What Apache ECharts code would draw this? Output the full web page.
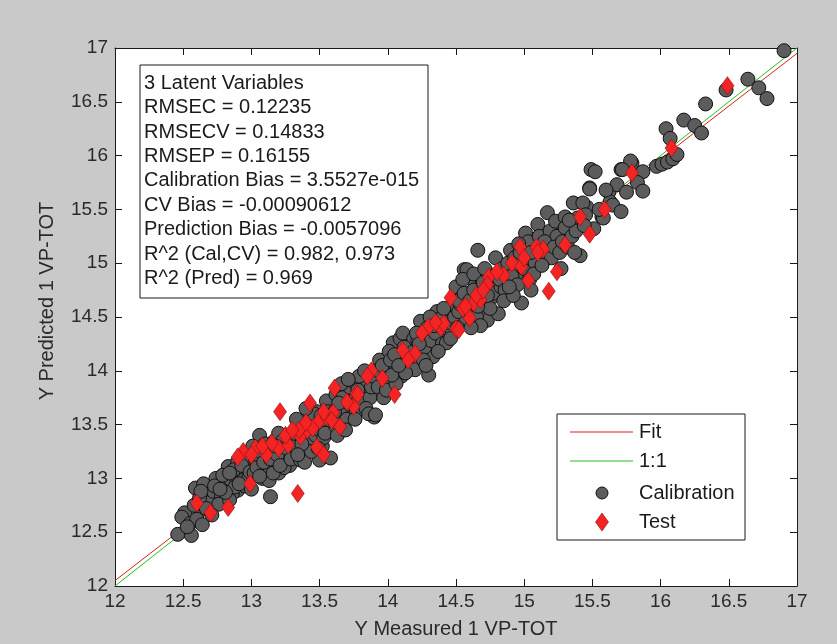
<!DOCTYPE html>
<html><head><meta charset="utf-8">
<script src="https://cdn.jsdelivr.net/npm/echarts@6/dist/echarts.min.js"></script>
<style>html,body{margin:0;padding:0;background:#c9c9c9}#c{width:837px;height:644px}</style>
</head><body><div id="c"></div><script>
// ---- data ----
const calibration = [
[12.46,12.48],[12.56,12.47],[12.51,12.68],[12.49,12.64],[12.59,12.91],[12.65,12.95],[12.55,12.58],[12.62,12.70],[12.60,12.62],[12.66,12.80],[12.58,12.75],[12.68,12.85],[12.64,12.57],[12.70,12.78],[12.53,12.55],
[12.75,12.97],[12.82,12.95],[12.83,13.11],[12.90,12.89],[12.72,12.88],[12.78,12.83],[12.80,12.92],[12.85,12.99],[12.88,13.02],[12.92,13.05],[12.76,12.76],[12.86,12.86],[12.95,12.93],[12.97,13.10],[12.74,13.00],[12.90,13.16],[12.84,12.80],[12.94,12.98],[12.98,13.00],[12.88,12.92],[12.81,12.87],[12.96,13.14],
[12.62,12.82],[12.67,12.72],[12.73,12.93],[12.77,12.90],[12.79,13.03],[12.87,13.08],[12.91,12.95],[12.93,13.12],[12.99,13.06],[12.71,12.66],[12.63,12.88],[12.84,13.05],
[13.06,13.40],[13.14,12.83],[13.02,13.05],[13.05,13.12],[13.08,13.00],[13.10,13.20],[13.12,13.10],[13.15,13.25],[13.00,12.90],[13.18,13.15],[13.20,13.05],[13.22,13.30],[13.25,13.20],[13.03,13.18],[13.27,13.38],[13.28,13.12],[13.10,13.32],[13.17,13.35],[13.24,13.10],[13.13,12.98],[13.07,13.25],[13.20,13.42],[13.29,13.25],[13.01,13.30],[13.16,13.05],
[13.04,13.10],[13.09,13.15],[13.11,13.28],[13.14,13.18],[13.19,13.22],[13.21,13.12],[13.23,13.35],[13.26,13.28],[13.31,13.35],[13.34,13.48],[13.37,13.45],[13.41,13.42],[13.43,13.58],[13.46,13.35],[13.49,13.52],[13.06,13.02],[13.18,13.30],[13.29,13.18],
[13.36,13.17],[13.39,13.15],[13.50,13.17],[13.58,13.19],[13.32,13.30],[13.35,13.40],[13.38,13.50],[13.40,13.28],[13.42,13.35],[13.45,13.55],[13.47,13.40],[13.48,13.62],[13.50,13.45],[13.52,13.30],[13.55,13.50],[13.57,13.65],[13.33,13.55],[13.44,13.25],[13.53,13.38],[13.58,13.45],[13.31,13.42],[13.46,13.60],[13.40,13.65],[13.55,13.72],[13.37,13.32],[13.49,13.28],[13.59,13.57],[13.34,13.22],
[13.51,13.58],[13.54,13.42],[13.56,13.62],[13.60,13.55],[13.62,13.78],[13.66,13.68],[13.68,13.82],[13.70,13.65],[13.73,13.75],[13.76,13.78],[13.80,13.70],[13.81,13.88],[13.85,13.80],[13.90,13.90],[13.92,14.00],[13.95,13.90],[13.98,14.08],
[13.90,13.57],[13.62,13.48],[13.65,13.60],[13.67,13.75],[13.70,13.55],[13.72,13.85],[13.74,13.68],[13.77,13.62],[13.80,13.80],[13.82,13.72],[13.85,13.90],[13.87,13.75],[13.63,13.40],[13.66,13.88],[13.69,13.45],[13.75,13.90],[13.79,13.95],[13.84,13.65],[13.88,13.85],[13.61,13.62],[13.71,13.92],[13.76,13.55],[13.83,14.00],[13.86,13.60],[13.64,13.70],[13.78,13.82],[13.89,13.95],
[13.91,13.59],[13.93,13.85],[13.95,13.98],[13.97,13.75],[14.00,14.05],[14.02,13.90],[14.04,14.26],[14.05,14.00],[14.07,14.12],[14.09,14.30],[14.10,13.95],[14.12,14.08],[14.14,14.20],[14.16,14.02],[14.18,14.25],[14.20,14.01],[13.94,14.10],[13.99,13.82],[14.01,14.18],[14.06,13.88],[14.11,14.35],[14.15,14.12],[14.19,14.30],[13.96,14.05],[14.03,13.96],[14.13,13.98],
[14.02,14.10],[14.05,14.15],[14.08,14.05],[14.12,14.22],[14.16,14.15],[14.19,14.18],[14.22,14.28],[14.26,14.38],[14.29,14.32],[14.32,14.45],[14.35,14.25],[14.39,14.38],[14.42,14.50],[14.46,14.48],[14.49,14.58],
[14.24,14.46],[14.30,13.96],[14.33,14.13],[14.36,14.55],[14.22,14.15],[14.25,14.30],[14.27,14.22],[14.29,14.40],[14.32,14.28],[14.35,14.35],[14.38,14.48],[14.40,14.25],[14.42,14.40],[14.43,14.26],[14.45,14.55],[14.47,14.38],[14.48,14.62],[14.50,14.78],[14.21,14.35],[14.26,14.10],[14.31,14.50],[14.37,14.18],[14.41,14.58],[14.44,14.45],[14.23,14.25],[14.34,14.42],[14.46,14.30],[14.49,14.50],[14.28,14.05],
[14.56,14.94],[14.58,14.94],[14.66,15.12],[14.73,14.47],[14.81,14.53],[14.79,15.05],[14.52,14.55],[14.54,14.68],[14.57,14.45],[14.60,14.72],[14.62,14.58],[14.64,14.80],[14.65,14.50],[14.67,14.68],[14.69,14.85],[14.70,14.60],[14.72,14.75],[14.74,14.90],[14.76,14.68],[14.78,14.80],[14.51,14.40],[14.55,14.85],[14.59,14.62],[14.63,14.90],[14.68,14.42],[14.71,14.95],[14.75,14.58],[14.77,14.72],[14.53,14.62],[14.61,14.40],
[14.52,14.65],[14.56,14.72],[14.60,14.65],[14.63,14.75],[14.66,14.60],[14.70,14.82],[14.73,14.70],[14.78,14.88],[14.83,14.78],[14.87,14.92],[14.92,14.98],[14.96,14.92],
[14.90,15.12],[14.98,14.63],[15.01,15.28],[15.10,15.36],[14.82,14.85],[14.84,14.95],[14.86,14.75],[14.88,15.00],[14.91,14.88],[14.93,15.05],[14.95,14.80],[14.97,15.10],[15.00,14.95],[15.02,15.05],[15.04,14.85],[15.06,15.15],[15.08,15.00],[14.85,14.65],[14.92,14.70],[15.03,15.20],[15.07,14.90],[14.89,14.78],[14.96,15.18],[15.05,14.75],
[15.05,15.10],[15.11,15.25],[15.16,15.12],[15.21,15.30],[15.25,15.18],[15.31,15.28],[15.39,15.42],[15.46,15.52],
[15.17,15.47],[15.19,15.30],[15.23,15.39],[15.24,15.25],[15.30,15.43],[15.30,15.33],[15.36,15.56],[15.41,15.07],[15.12,15.10],[15.15,15.20],[15.20,15.05],[15.22,15.15],[15.26,15.10],[15.28,15.20],[15.32,15.15],[15.35,15.25],[15.38,15.30],[15.13,14.98],[15.27,14.95],[15.33,15.40],[15.37,15.10],
[15.43,15.56],[15.49,15.87],[15.52,15.85],[15.48,15.70],[15.62,15.66],[15.68,15.73],[15.75,15.66],[15.63,15.57],[15.65,15.54],[15.71,15.48],[15.57,15.43],[15.45,15.45],[15.51,15.32],[15.60,15.68],[15.58,15.42],[15.48,15.69],[15.71,15.87],[15.79,15.93],[15.44,15.35],[15.55,15.50],
[15.78,15.95],[15.72,15.87],[15.87,15.85],[15.83,15.75],[15.87,15.67],[15.97,15.90],[16.01,15.92],[16.05,15.94],[16.09,15.97],[16.12,16.01],[16.04,16.25],[16.07,16.16],[16.17,16.33],[16.25,16.28],[16.30,16.21],[16.33,16.48],[16.48,16.61],[16.64,16.71],[16.72,16.63],[16.78,16.53],[16.905,16.975]
];
const test = [
[12.60,12.77],[12.70,12.68],[12.83,12.73],[12.99,12.95],[13.34,12.86],[12.94,13.25],[13.03,13.28],[13.11,13.22],[13.20,13.28],[13.27,13.31],[13.21,13.62],[13.43,13.70],[13.36,13.39],[13.41,13.45],[13.45,13.47],[13.50,13.54],[13.55,13.57],[13.60,13.61],[13.48,13.29],[13.53,13.22],[13.61,13.84],[13.75,13.67],[13.70,13.71],[13.77,13.79],[13.78,13.78],[13.53,13.62],[13.59,13.54],[13.65,13.48],[13.35,13.45],[13.88,14.00],[13.96,13.93],[14.05,13.78],[14.11,14.19],[14.20,14.16],[14.30,14.41],[14.39,14.40],[14.50,14.39],[14.46,14.68],[14.55,14.58],[14.63,14.63],[14.68,14.66],[14.41,14.44],[14.52,14.38],[14.60,14.49],[14.57,14.60],[14.74,14.87],[14.85,14.89],[14.80,14.92],[14.73,14.80],[14.91,15.00],[14.98,14.97],[15.03,14.84],[15.24,14.92],[15.18,14.74],[14.97,15.15],[15.09,15.15],[15.14,15.13],[15.30,15.17],[15.41,15.43],[15.48,15.27],[15.59,15.50],[15.79,15.84],[16.08,16.07],[16.49,16.65],[13.00,13.22],[13.08,13.30],[13.15,13.33],[13.25,13.40],[13.30,13.45],[13.40,13.52],[12.90,13.20],[13.85,13.95],[14.15,14.10],[14.25,14.35],[14.35,14.45],[14.65,14.70],[14.70,14.75],[15.00,15.05],[15.10,15.10]
];
const fitLine = [[12, 12.05], [17, 16.95]];
const oneToOne = [[12, 12], [17, 17]];
const statsLines = [
  '3 Latent Variables',
  'RMSEC = 0.12235',
  'RMSECV = 0.14833',
  'RMSEP = 0.16155',
  'Calibration Bias = 3.5527e-015',
  'CV Bias = -0.00090612',
  'Prediction Bias = -0.0057096',
  'R^2 (Cal,CV) = 0.982, 0.973',
  'R^2 (Pred) = 0.969'
];
const legendNames = ['Fit', '1:1', 'Calibration', 'Test'];
const axisMin = 12, axisMax = 17, axisStep = 0.5;
const xTitle = 'Y Measured 1 VP-TOT';
const yTitle = 'Y Predicted 1 VP-TOT';

// ---- chart ----
const FONT = '"Liberation Sans", Arial, sans-serif';
const chart = echarts.init(document.getElementById('c'), null, {renderer: 'canvas'});
const axisCommon = {
  type: 'value', min: axisMin, max: axisMax, interval: axisStep,
  axisLine: {show: true, onZero: false, lineStyle: {color: '#1a1a1a', width: 1}},
  axisTick: {show: true, inside: true, length: 7, lineStyle: {color: '#1a1a1a'}},
  splitLine: {show: false}
};
const labelStyle = {color: '#2a2a2a', fontFamily: FONT, fontSize: 19};
const lx = 557, ly = 414;
chart.setOption({
  backgroundColor: '#c9c9c9',
  animation: false,
  grid: {left: 115, right: 40, top: 48, bottom: 58, show: true, backgroundColor: '#ffffff', borderWidth: 0},
  xAxis: [
    Object.assign({}, axisCommon, {position: 'bottom', name: xTitle, nameLocation: 'middle', nameGap: 33,
      nameTextStyle: {color: '#2a2a2a', fontFamily: FONT, fontSize: 20},
      axisLabel: Object.assign({margin: 6}, labelStyle)}),
    Object.assign({}, axisCommon, {position: 'top', axisLabel: {show: false}})
  ],
  yAxis: [
    Object.assign({}, axisCommon, {position: 'left', name: yTitle, nameLocation: 'middle', nameGap: 58,
      nameTextStyle: {color: '#2a2a2a', fontFamily: FONT, fontSize: 20, padding: [0, 0, 0, 32]},
      axisLabel: Object.assign({margin: 7}, labelStyle)}),
    Object.assign({}, axisCommon, {position: 'right', axisLabel: {show: false}})
  ],
  series: [
    {name: legendNames[0], type: 'line', data: fitLine, symbol: 'none', lineStyle: {color: '#d82020', width: 1}, z: 1},
    {name: legendNames[1], type: 'line', data: oneToOne, symbol: 'none', lineStyle: {color: '#22c022', width: 1}, z: 1},
    {name: legendNames[2], type: 'scatter', data: calibration, symbol: 'circle', symbolSize: 14,
      itemStyle: {color: '#5c5c5c', borderColor: '#111111', borderWidth: 1, opacity: 1}, z: 2},
    {name: legendNames[3], type: 'scatter', data: test, symbol: 'diamond', symbolSize: [13, 18],
      itemStyle: {color: '#f42424', borderColor: '#8a1010', borderWidth: 0.6, opacity: 1}, z: 3}
  ],
  graphic: [
    {type: 'rect', shape: {x: 140, y: 65, width: 288, height: 233}, style: {fill: '#ffffff', stroke: '#1a1a1a', lineWidth: 1}, z: 10},
    {type: 'text', x: 144, y: 71, z: 11, style: {text: statsLines.join('\n'), font: '20px ' + FONT, fill: '#1a1a1a', lineHeight: 24.4}},
    {type: 'rect', shape: {x: lx, y: ly, width: 188, height: 126}, style: {fill: '#ffffff', stroke: '#1a1a1a', lineWidth: 1}, z: 10},
    {type: 'line', shape: {x1: 570, y1: 432, x2: 633, y2: 432}, style: {stroke: '#d82020', lineWidth: 1}, z: 11},
    {type: 'line', shape: {x1: 570, y1: 461, x2: 633, y2: 461}, style: {stroke: '#22c022', lineWidth: 1}, z: 11},
    {type: 'circle', shape: {cx: 602, cy: 493, r: 6}, style: {fill: '#5c5c5c', stroke: '#111111', lineWidth: 1}, z: 11},
    {type: 'polygon', shape: {points: [[602, 513], [608.5, 522], [602, 531], [595.5, 522]]}, style: {fill: '#f42424', stroke: '#8a1010', lineWidth: 0.6}, z: 11},
    {type: 'text', x: 639, y: 432, z: 11, style: {text: legendNames[0], font: '20px ' + FONT, fill: '#1a1a1a', textVerticalAlign: 'middle', verticalAlign: 'middle'}},
    {type: 'text', x: 639, y: 461, z: 11, style: {text: legendNames[1], font: '20px ' + FONT, fill: '#1a1a1a', textVerticalAlign: 'middle', verticalAlign: 'middle'}},
    {type: 'text', x: 639, y: 493, z: 11, style: {text: legendNames[2], font: '20px ' + FONT, fill: '#1a1a1a', textVerticalAlign: 'middle', verticalAlign: 'middle'}},
    {type: 'text', x: 639, y: 522, z: 11, style: {text: legendNames[3], font: '20px ' + FONT, fill: '#1a1a1a', textVerticalAlign: 'middle', verticalAlign: 'middle'}}
  ]
});
</script></body></html>
